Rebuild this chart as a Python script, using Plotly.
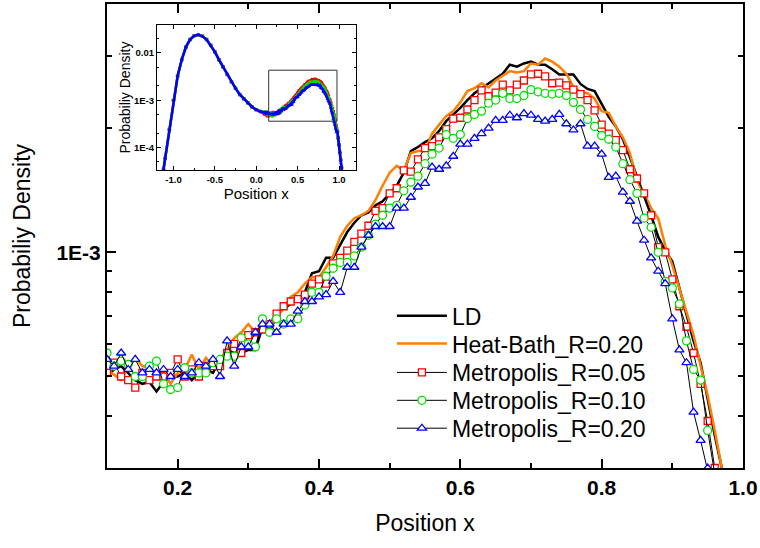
import plotly.graph_objects as go

# ---------------- data (main panel, densities in units of 1E-3) ----------------
x_pos = [round(0.10 + 0.01 * i, 2) for i in range(88)]  # 0.10 ... 0.97

ld = [0.50, 0.52, 0.53, 0.51, 0.49, 0.48, 0.485, 0.46, 0.485, 0.50,
      0.50, 0.51, 0.49, 0.51, 0.52, 0.51, 0.55, 0.58, 0.57, 0.57,
      0.58, 0.58, 0.66, 0.67, 0.71, 0.73, 0.75, 0.77, 0.80, 0.89,
      0.90, 0.97, 0.97, 1.04, 1.12, 1.18, 1.23, 1.25, 1.30, 1.33,
      1.39, 1.45, 1.56, 1.76, 1.80, 1.85, 1.89, 1.97, 2.08, 2.16,
      2.24, 2.34, 2.43, 2.50, 2.57, 2.64, 2.71, 2.85, 2.82, 2.87,
      2.90, 2.85, 2.85, 2.78, 2.70, 2.70, 2.70, 2.56, 2.49, 2.46,
      2.28, 2.13, 2.02, 1.88, 1.70, 1.53, 1.37, 1.23, 1.09, 1.01,
      0.95, 0.82, 0.71, 0.61, 0.54, 0.44, 0.36, 0.30]

heat_bath = [0.52, 0.505, 0.49, 0.53, 0.555, 0.53, 0.525, 0.51, 0.51, 0.48,
             0.51, 0.52, 0.565, 0.52, 0.555, 0.53, 0.55, 0.58, 0.62, 0.64,
             0.67, 0.64, 0.67, 0.68, 0.70, 0.73, 0.78, 0.80, 0.84, 0.87,
             0.87, 0.92, 0.98, 1.09, 1.16, 1.21, 1.23, 1.26, 1.34, 1.45,
             1.56, 1.62, 1.58, 1.74, 1.76, 1.76, 1.94, 2.04, 2.14, 2.20,
             2.31, 2.46, 2.50, 2.57, 2.51, 2.61, 2.68, 2.75, 2.73, 2.75,
             2.87, 2.85, 2.95, 2.90, 2.82, 2.71, 2.52, 2.45, 2.43, 2.36,
             2.20, 2.18, 2.02, 1.90, 1.74, 1.49, 1.39, 1.28, 1.21, 1.04,
             0.93, 0.82, 0.72, 0.63, 0.53, 0.45, 0.37, 0.30]

metro_005 = [0.51, 0.54, 0.50, 0.49, 0.47, 0.51, 0.49, 0.50, 0.50, 0.51,
             0.55, 0.50, 0.52, 0.50, 0.53, 0.53, 0.53, 0.57, 0.60, 0.57,
             0.63, 0.64, 0.65, 0.67, 0.71, 0.74, 0.76, 0.77, 0.79, 0.84,
             0.86, 0.84, 0.94, 0.97, 1.01, 1.06, 1.11, 1.16, 1.26, 1.28,
             1.39, 1.43, 1.58, 1.57, 1.68, 1.79, 1.81, 1.90, 1.99, 2.11,
             2.12, 2.22, 2.34, 2.47, 2.39, 2.44, 2.55, 2.47, 2.55, 2.61,
             2.70, 2.71, 2.67, 2.57, 2.58, 2.54, 2.48, 2.42, 2.34, 2.21,
             2.04, 1.94, 1.87, 1.77, 1.59, 1.51, 1.39, 1.23, 1.03, 1.00,
             0.86, 0.74, 0.66, 0.57, 0.48, 0.39, 0.30, 0.25]

metro_010 = [0.57, 0.53, 0.545, 0.535, 0.50, 0.50, 0.53, 0.545, 0.48, 0.465,
             0.47, 0.525, 0.51, 0.51, 0.51, 0.54, 0.55, 0.56, 0.56, 0.62,
             0.60, 0.59, 0.69, 0.64, 0.69, 0.67, 0.69, 0.69, 0.745, 0.80,
             0.80, 0.875, 0.915, 0.945, 0.945, 0.98, 1.03, 1.10, 1.17, 1.23,
             1.28, 1.30, 1.41, 1.48, 1.53, 1.64, 1.73, 1.79, 1.93, 1.89,
             1.93, 2.11, 2.16, 2.20, 2.30, 2.34, 2.43, 2.36, 2.36, 2.40,
             2.48, 2.45, 2.43, 2.42, 2.43, 2.40, 2.31, 2.22, 2.10, 2.02,
             1.92, 1.88, 1.80, 1.64, 1.50, 1.39, 1.21, 1.15, 1.00, 0.85,
             0.82, 0.75, 0.61, 0.52, 0.49, 0.37, 0.29, 0.24]

metro_020 = [0.55, 0.53, 0.57, 0.52, 0.55, 0.51, 0.52, 0.51, 0.52, 0.50,
             0.52, 0.50, 0.51, 0.54, 0.53, 0.55, 0.50, 0.61, 0.53, 0.59,
             0.59, 0.64, 0.67, 0.67, 0.64, 0.67, 0.67, 0.72, 0.76, 0.76,
             0.78, 0.79, 0.85, 0.80, 0.92, 0.92, 1.03, 1.10, 1.155, 1.155,
             1.155, 1.28, 1.28, 1.36, 1.44, 1.47, 1.61, 1.59, 1.62, 1.71,
             1.83, 1.83, 1.89, 1.94, 2.00, 2.09, 2.09, 2.15, 2.12, 2.17,
             2.15, 2.10, 2.08, 2.10, 2.16, 2.05, 1.98, 2.05, 1.81, 1.81,
             1.73, 1.52, 1.53, 1.40, 1.33, 1.19, 1.07, 0.97, 0.90, 0.84,
             0.69, 0.58, 0.54, 0.41, 0.35, 0.30, 0.25, 0.21]

# ---------------- data (inset, full range; shared parts where curves coincide) ----------------
inset_x_left = [-1.12, -1.10, -1.05, -1.00, -0.95, -0.90, -0.85, -0.80, -0.75, -0.70,
                -0.65, -0.60, -0.55, -0.50, -0.45, -0.40, -0.35, -0.30, -0.25, -0.20,
                -0.15, -0.10, -0.05, 0.00, 0.05]
inset_y_left = [3.5e-5, 6.0e-5, 2.4e-4, 1.0e-3, 3.24e-3, 7.2e-3, 1.32e-2, 1.91e-2, 2.29e-2, 2.40e-2,
                2.24e-2, 1.91e-2, 1.45e-2, 1.05e-2, 7.1e-3, 5.0e-3, 3.5e-3, 2.45e-3, 1.78e-3, 1.32e-3,
                1.07e-3, 8.7e-4, 7.2e-4, 6.3e-4, 5.75e-4]
inset_x_tail = [0.98, 0.99, 1.00, 1.01, 1.02, 1.03, 1.04]
inset_y_tail = [2.2e-4, 1.6e-4, 1.15e-4, 8.0e-5, 5.5e-5, 3.8e-5, 2.6e-5]

# zoom box drawn in the inset (region of the main panel)
box_x = [0.15, 0.975, 0.975, 0.15, 0.15]
box_y = [3.6e-4, 3.6e-4, 4.3e-3, 4.3e-3, 3.6e-4]

series = [
    ("LD", ld, dict(mode="lines", line=dict(color="black", width=2.5))),
    ("Heat-Bath_R=0.20", heat_bath, dict(mode="lines", line=dict(color="#FF7F00", width=2.5))),
    ("Metropolis_R=0.05", metro_005, dict(mode="lines+markers", line=dict(color="black", width=1),
                                          marker=dict(symbol="square", size=7, color="white",
                                                      line=dict(color="#FF0000", width=1.3)))),
    ("Metropolis_R=0.10", metro_010, dict(mode="lines+markers", line=dict(color="black", width=1),
                                          marker=dict(symbol="circle", size=8, color="white",
                                                      line=dict(color="#00E000", width=1.3)))),
    ("Metropolis_R=0.20", metro_020, dict(mode="lines+markers", line=dict(color="black", width=1),
                                          marker=dict(symbol="triangle-up", size=8, color="white",
                                                      line=dict(color="#0000FF", width=1.3)))),
]
inset_colors = ["black", "#FF7F00", "#FF0000", "#00E000", "#0000FF"]
legend_ids = ["legend", "legend2", "legend3", "legend4", "legend5"]
legend_tops = [0.3745, 0.3144, 0.2522, 0.1921, 0.1320]

FONT = "Liberation Sans, Arial, sans-serif"
fig = go.Figure()

for (name, vals, style), lid in zip(series, legend_ids):
    fig.add_trace(go.Scatter(x=x_pos, y=[v * 1e-3 for v in vals], name=name, legend=lid,
                             xaxis="x", yaxis="y", **style))

for (name, vals, style), col in zip(series, inset_colors):
    xs = inset_x_left + x_pos + inset_x_tail
    ys = inset_y_left + [v * 1e-3 for v in vals] + inset_y_tail
    if style["mode"] == "lines":
        fig.add_trace(go.Scatter(x=xs, y=ys, mode="lines", line=dict(color=col, width=1.5),
                                 showlegend=False, xaxis="x2", yaxis="y2", hoverinfo="skip"))
    else:
        sym = style["marker"]["symbol"]
        fig.add_trace(go.Scatter(x=xs, y=ys, mode="lines+markers", line=dict(color=col, width=2.5),
                                 marker=dict(symbol=sym, size=3.5, color=col),
                                 showlegend=False, xaxis="x2", yaxis="y2", hoverinfo="skip"))

fig.add_trace(go.Scatter(x=box_x, y=box_y, mode="lines", line=dict(color="#333333", width=1),
                         showlegend=False, xaxis="x2", yaxis="y2", hoverinfo="skip"))

axis_common = dict(showline=True, linecolor="black", mirror="allticks", ticks="inside",
                   showgrid=False, zeroline=False, tickcolor="black")

legend_layout = {}
for lid, top in zip(legend_ids, legend_tops):
    legend_layout[lid] = dict(x=0.448, y=top, xanchor="left", yanchor="top",
                              bgcolor="rgba(0,0,0,0)", font=dict(size=23, family=FONT),
                              itemwidth=50)

fig.update_layout(
    width=760, height=548,
    margin=dict(l=107, r=16, t=2, b=80),
    paper_bgcolor="white", plot_bgcolor="white",
    font=dict(family=FONT, color="black"),
    xaxis=dict(**axis_common, domain=[0, 1], range=[0.1, 1.0], linewidth=2,
               tickvals=[0.2, 0.4, 0.6, 0.8, 1.0], ticktext=["0.2", "0.4", "0.6", "0.8", "1.0"],
               ticklen=9, tickwidth=1.5,
               tickfont=dict(size=21, weight="bold", family=FONT),
               minor=dict(tickvals=[0.1, 0.3, 0.5, 0.7, 0.9], ticklen=5, tickwidth=1.5,
                          ticks="inside", tickcolor="black"),
               title=dict(text="Position x", font=dict(size=23, family=FONT), standoff=17)),
    yaxis=dict(**axis_common, domain=[0, 1], type="log", range=[-3.5229, -2.3979], linewidth=2,
               tickvals=[1e-3], ticktext=["1E-3"], ticklen=9, tickwidth=1.5,
               tickfont=dict(size=21, weight="bold", family=FONT),
               minor=dict(tickvals=[4e-4, 5e-4, 6e-4, 7e-4, 8e-4, 9e-4, 2e-3, 3e-3],
                          ticklen=5, tickwidth=1.5, ticks="inside", tickcolor="black"),
               title=dict(text="Probabiliy Density", font=dict(size=23, family=FONT), standoff=19)),
    xaxis2=dict(**axis_common, domain=[0.0785, 0.3909], anchor="y2", range=[-1.2, 1.2], linewidth=1,
                tickvals=[-1.0, -0.5, 0.0, 0.5, 1.0], ticktext=["-1.0", "-0.5", "0.0", "0.5", "1.0"],
                ticklen=4, tickwidth=1, tickfont=dict(size=9.5, weight="bold", family=FONT),
                minor=dict(tickvals=[-0.75, -0.25, 0.25, 0.75], ticklen=2, tickwidth=1,
                           ticks="inside", tickcolor="black"),
                title=dict(text="Position x", font=dict(size=15, family=FONT), standoff=2)),
    yaxis2=dict(**axis_common, domain=[0.6416, 0.955], anchor="x2", type="log", range=[-4.48, -1.41],
                linewidth=1, tickvals=[1e-4, 1e-3, 1e-2], ticktext=["1E-4", "1E-3", "0.01"],
                ticklen=4, tickwidth=1, tickfont=dict(size=9.5, weight="bold", family=FONT),
                minor=dict(tickvals=[5e-5, 2e-4, 5e-4, 2e-3, 5e-3, 2e-2],
                           ticklen=2, tickwidth=1, ticks="inside", tickcolor="black"),
                title=dict(text="Probabiliy Density", font=dict(size=14, family=FONT), standoff=0)),
    showlegend=True,
    **legend_layout,
)

fig.write_html("out.html")
